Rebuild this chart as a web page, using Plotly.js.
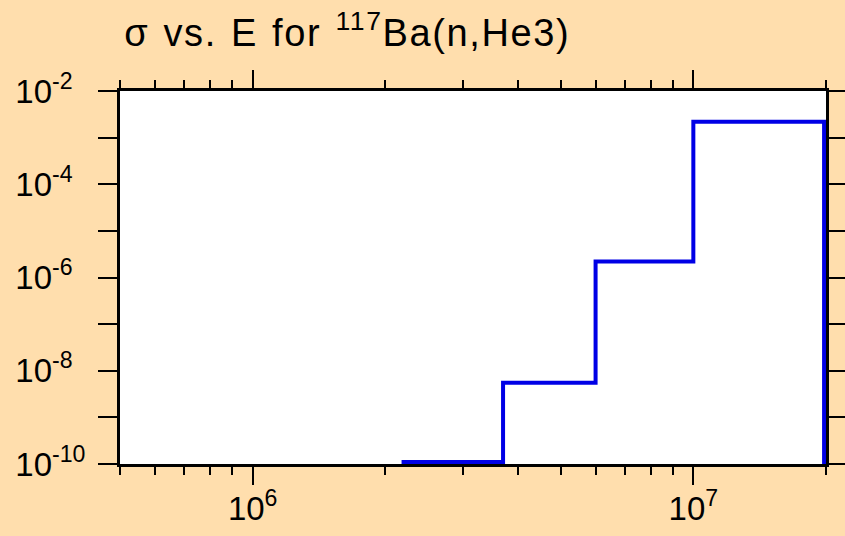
<!DOCTYPE html>
<html>
<head>
<meta charset="utf-8">
<script src="https://cdn.plot.ly/plotly-3.0.1.min.js"></script>
<style>
  html, body { margin: 0; padding: 0; background: #FFDEAD; }
  #chart { width: 845px; height: 536px; }
  .gtitle { letter-spacing: 1.6px; word-spacing: 2px; }
</style>
</head>
<body>
<div id="chart"></div>
<script>
// Data (step function, line shape 'hv')
const energy = [2.2e6, 2.2e6, 3.7e6, 6.0e6, 1.0e7, 1.98e7];   // eV
const sigma  = [1e-12, 1.1e-10, 5.5e-9, 2.2e-6, 2.2e-3, 1e-12]; // barns
const titleText = 'σ vs. E for <sup>117</sup>Ba(n,He3)';
const xRange = [5e5, 2e7];
const yRange = [1e-10, 1e-2];
const xTickVals = [1e6, 1e7];
const xTickText = ['10<sup>6</sup>', '10<sup>7</sup>'];
const yTickVals = [1e-10, 1e-8, 1e-6, 1e-4, 1e-2];
// figure spaces (U+2007) keep the labels left-aligned as in the reference
const yTickText = ['10<sup>-10</sup>', '10<sup>-8\u2007</sup>', '10<sup>-6\u2007</sup>', '10<sup>-4\u2007</sup>', '10<sup>-2\u2007</sup>'];

const trace = {
  x: energy,
  y: sigma,
  type: 'scatter',
  mode: 'lines',
  line: { shape: 'hv', color: 'rgb(0,0,230)', width: 4 },
  hoverinfo: 'skip'
};

const fontFam = '"Liberation Sans", Arial, Helvetica, sans-serif';

const layout = {
  width: 845,
  height: 536,
  paper_bgcolor: '#FFDEAD',
  plot_bgcolor: '#FFFFFF',
  showlegend: false,
  margin: { l: 120, r: 19, t: 91, b: 72, pad: 0 },
  title: {
    text: titleText,
    font: { family: fontFam, size: 38, color: '#000' },
    xref: 'paper', x: 0.006, xanchor: 'left',
    yref: 'container', y: 1 - 33 / 536, yanchor: 'middle'
  },
  xaxis: {
    type: 'log',
    range: xRange.map(Math.log10),
    tickmode: 'array',
    tickvals: xTickVals,
    ticktext: xTickText,
    showgrid: false,
    zeroline: false,
    showline: true,
    linecolor: '#000',
    linewidth: 3,
    mirror: 'allticks',
    ticks: 'outside',
    ticklen: 18,
    tickwidth: 2,
    tickcolor: '#000',
    ticklabelstandoff: -5,
    tickfont: { family: fontFam, size: 33, color: '#000' },
    minor: { dtick: 'D1', ticks: 'outside', ticklen: 8, tickwidth: 2, tickcolor: '#000', showgrid: false }
  },
  yaxis: {
    type: 'log',
    range: yRange.map(Math.log10),
    tickmode: 'array',
    tickvals: yTickVals,
    ticktext: yTickText,
    showgrid: false,
    zeroline: false,
    showline: true,
    linecolor: '#000',
    linewidth: 3,
    mirror: 'allticks',
    ticks: 'outside',
    ticklen: 19,
    tickwidth: 2,
    tickcolor: '#000',
    ticklabelstandoff: 6,
    tickfont: { family: fontFam, size: 33, color: '#000' },
    minor: { dtick: 1, ticks: 'outside', ticklen: 19, tickwidth: 2, tickcolor: '#000', showgrid: false }
  }
};

Plotly.newPlot('chart', [trace], layout, { staticPlot: true, displayModeBar: false });
</script>
</body>
</html>
